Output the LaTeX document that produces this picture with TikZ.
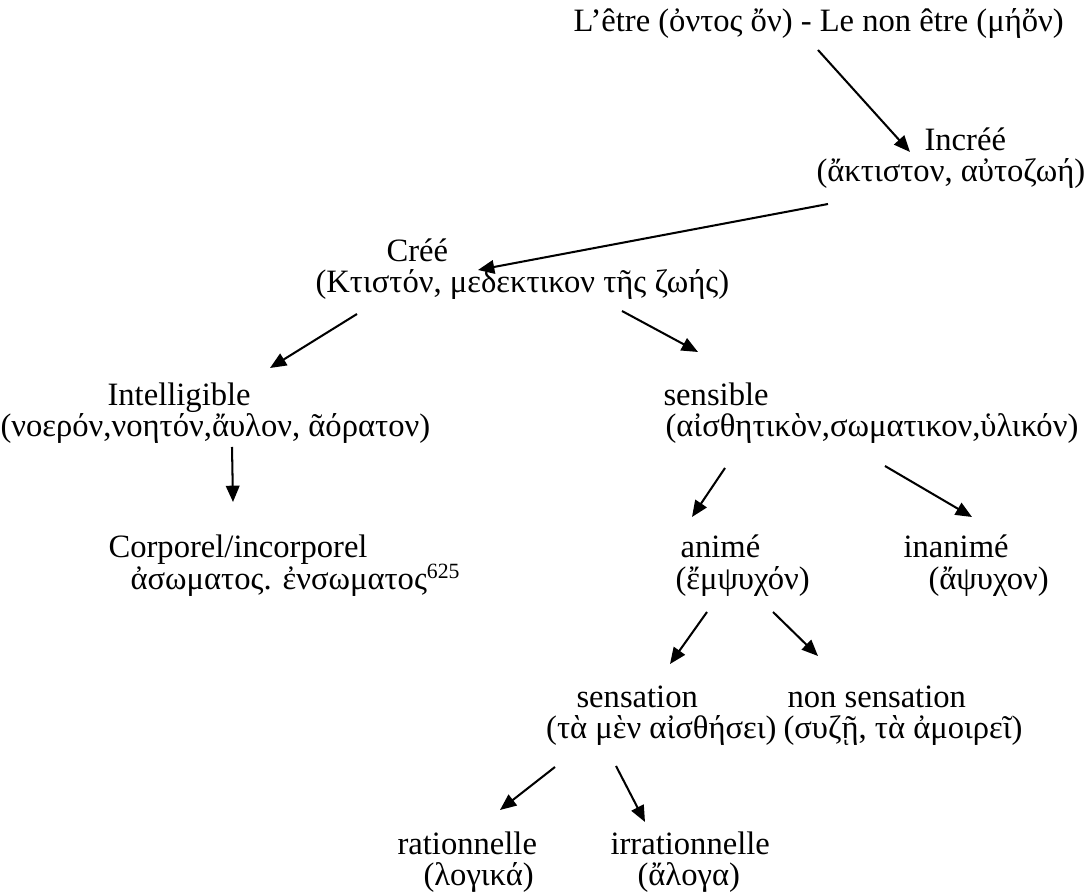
\documentclass[tikz,border=0pt]{standalone}
\usepackage{fontspec}
\setmainfont{Liberation Serif}
\usetikzlibrary{arrows.meta}
\begin{document}
\fontsize{12}{11.4}\selectfont
\begin{tikzpicture}[x=0.368pt,y=-0.368pt,
  lbl/.style={anchor=base west, inner sep=0pt},
  arr/.style={-{Triangle[length=6pt,width=5pt]}, line width=0.75pt}]
\useasboundingbox (0,0) rectangle (1084,893);
\node[lbl] (etre) at (573,32) {L’être (ὀντος ὄν) - Le non être (μήὄν)};
\node[lbl] (incree) at (924,151) {Incréé};
\node[lbl] (increeG) at (816,182) {(ἄκτιστον, αὐτοζωή)};
\node[lbl] (cree) at (386,262) {Créé};
\node[lbl] (creeG) at (315,293) {(Κτιστόν, μεδεκτικον τῆς ζωής)};
\node[lbl] (intel) at (107,406) {Intelligible};
\node[lbl] (intelG) at (0,437) {(νοερόν,νοητόν,ἄυλον, ᾶόρατον)};
\node[lbl] (sens) at (663,406) {sensible};
\node[lbl] (sensG) at (665,437) {(αἰσθητικὸν,σωματικον,ὑλικόν)};
\node[lbl] (corp) at (108,558) {Corporel/incorporel};
\node[lbl] (corpG) at (130,590) {ἀσωματος. ἐνσωματος\textsuperscript{625}};
\node[lbl] (anime) at (680,558) {animé};
\node[lbl] (animeG) at (675,590) {(ἔμψυχόν)};
\node[lbl] (inanime) at (903,558) {inanimé};
\node[lbl] (inanimeG) at (928,590) {(ἄψυχον)};
\node[lbl] (sensa) at (576,708) {sensation};
\node[lbl, anchor=base east] (sensaG) at (777,739) {(τὰ μὲν αἰσθήσει)};
\node[lbl] (nonsens) at (787,708) {non sensation};
\node[lbl] (nonsensG) at (783,739) {(συζῇ, τὰ ἀμοιρεῖ)};
\node[lbl] (rat) at (397,855) {rationnelle};
\node[lbl] (ratG) at (423,886) {(λογικά)};
\node[lbl] (irrat) at (610,855) {irrationnelle};
\node[lbl] (irratG) at (637,886) {(ἄλογα)};
\draw[arr] ([shift={(245,18)}]etre.base west) -- ([shift={(-14,1)}]incree.base west);
\draw[arr] ([shift={(12,22)}]increeG.base west) -- ([shift={(163,-23)}]creeG.base west);
\draw[arr] ([shift={(42,21)}]creeG.base west) -- ([shift={(163,-38)}]intel.base west);
\draw[arr] ([shift={(307,18)}]creeG.base west) -- ([shift={(35,-54)}]sens.base west);
\draw[arr] ([shift={(232,10)}]intelG.base west) -- ([shift={(125,-56)}]corp.base west);
\draw[arr] ([shift={(60,31)}]sensG.base west) -- ([shift={(12,-41)}]anime.base west);
\draw[arr] ([shift={(220,29)}]sensG.base west) -- ([shift={(69,-41)}]inanime.base west);
\draw[arr] ([shift={(32,22)}]animeG.base west) -- ([shift={(94,-44)}]sensa.base west);
\draw[arr] ([shift={(98,22)}]animeG.base west) -- ([shift={(31,-52)}]nonsens.base west);
\draw[arr] ([shift={(-222,28)}]sensaG.base east) -- ([shift={(103,-45)}]rat.base west);
\draw[arr] ([shift={(-161,27)}]sensaG.base east) -- ([shift={(35,-33)}]irrat.base west);
\end{tikzpicture}
\end{document}
